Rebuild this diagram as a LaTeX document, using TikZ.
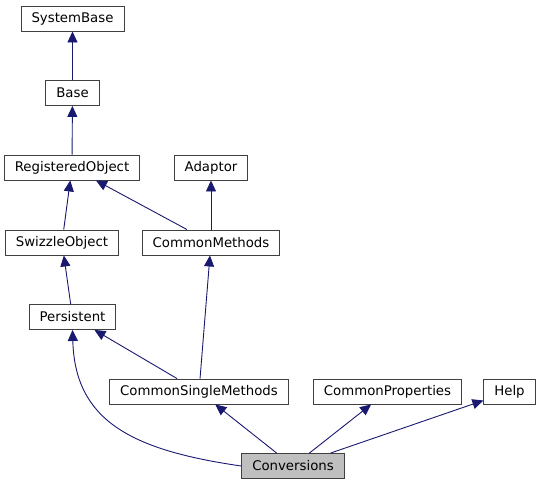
\documentclass[tikz,border=0pt]{standalone}
\usepackage{fontspec}
\setmainfont{DejaVu Sans}
\usetikzlibrary{arrows.meta}

\begin{document}
\begin{tikzpicture}[x=1pt, y=-1pt]
    \tikzset{cls/.style={draw=black!75, line width=0.9pt, fill=white, inner xsep=10.5pt, inner ysep=0pt, minimum height=25pt, font=\fontsize{13.3}{16}\selectfont},
             edge/.style={draw={rgb,255:red,25;green,25;blue,112}, line width=0.9pt, -{Triangle[width=10pt, length=11pt]}}}
    \useasboundingbox (0, 0) rectangle (541, 485);

    \node[cls] (sysbase) at (72.5, 18.5) {SystemBase};
    \node[cls] (base) at (72.5, 93) {Base};
    \node[cls] (regobj) at (72, 167.5) {RegisteredObject};
    \node[cls] (adaptor) at (211, 167.5) {Adaptor};
    \node[cls] (swizzle) at (62, 242.5) {SwizzleObject};
    \node[cls] (cmethods) at (211, 242.5) {CommonMethods};
    \node[cls] (persist) at (72.5, 317) {Persistent};
    \node[cls] (csmethods) at (199, 391.5) {CommonSingleMethods};
    \node[cls] (cprops) at (387.5, 391.5) {CommonProperties};
    \node[cls] (help) at (509.5, 391.5) {Help};
    \node[cls, fill=black!25] (conv) at (293, 466) {Conversions};

    \foreach \a/\b in {base/sysbase, regobj/base, swizzle/regobj, cmethods/regobj, cmethods/adaptor,
                       persist/swizzle, csmethods/persist, csmethods/cmethods,
                       conv/csmethods, conv/cprops, conv/help} {
        \draw[edge] (\a) -- (\b);
    }
    \draw[edge] (conv.west) .. controls (130, 450) and (75, 420) .. (persist.south);

\end{tikzpicture}
\end{document}
